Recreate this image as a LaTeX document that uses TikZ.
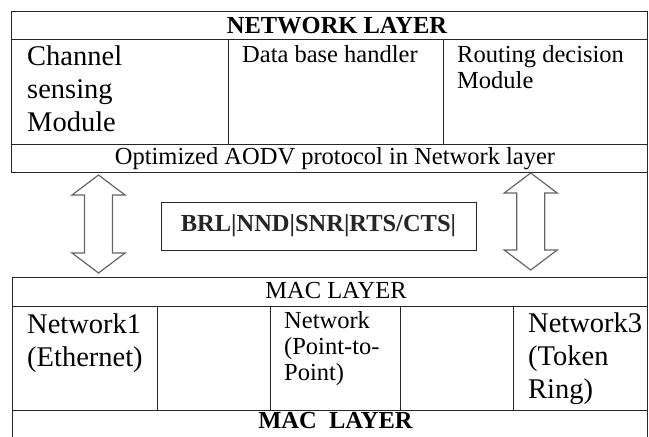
\documentclass[tikz,border=0pt]{standalone}
\usepackage{fontspec}
\setmainfont{Liberation Serif}
\usepackage{tikz}

\begin{document}
\begin{tikzpicture}[x=1pt,y=-1pt,
  rule/.style={line width=0.9pt,black!85},
  txt/.style={inner sep=0pt,align=left,font=\fontsize{24.5}{26}\selectfont},
  boldtxt/.style={inner sep=0pt,font=\fontsize{24.5}{26}\selectfont\bfseries},
  bigtxt/.style={inner sep=0pt,align=left,font=\fontsize{28.5}{33}\selectfont},
  blockarrow/.style={line width=1.2pt,gray!80!black,line join=miter}]
\useasboundingbox (0,0) rectangle (649,437);

% Define the edges of the two tables
\def\xL{11}
\def\xR{647}

% Network layer table
\draw[rule] (\xL,11) rectangle (\xR,172);
\draw[rule] (\xL,39) -- (\xR,39);
\draw[rule] (\xL,144) -- (\xR,144);
\foreach \x in {228,443} {
    \draw[rule] (\x,39) -- (\x,144);
}

% Right border runs down the whole page
\draw[rule] (\xR,172) -- (\xR,437);

% MAC layer table
\draw[rule] (\xL+1,437) -- (\xL+1,277) -- (\xR,277);
\draw[rule] (\xL+1,306) -- (\xR,306);
\draw[rule] (\xL+1,410) -- (\xR,410);
\foreach \x in {157,270,400,513} {
    \draw[rule] (\x,306) -- (\x,410);
}

% Texts of the network layer (base = baseline of the last line)
\node[boldtxt,anchor=base] (netlayer) at (337,33) {NETWORK LAYER};
\node[bigtxt,anchor=base west] (chsense) at (27,131) {Channel\\sensing\\Module};
\node[txt,anchor=base west] (dbhandler) at (242,62) {Data base handler};
\node[txt,anchor=base west] (routing) at (457,88) {Routing decision\\Module};
\node[txt,anchor=base] (aodv) at (335,164) {Optimized AODV protocol in Network layer};

% Fields between the layers
\node[boldtxt,draw,rule,minimum width=315,minimum height=48] (fields) at (318.5,226) {BRL|NND|SNR|RTS/CTS|};

% Hollow double arrows
\foreach \cx/\ytop/\ybot in {98.5/175/273, 530.7/173/270} {
    \draw[blockarrow] (\cx,\ytop) -- ++(26.5,20) -- ++(-12.5,0) -- (\cx+14,\ybot-20)
        -- ++(12.5,0) -- (\cx,\ybot) -- ++(-26.5,-20) -- ++(12.5,0)
        -- (\cx-14,\ytop+20) -- ++(-12.5,0) -- cycle;
}

% Texts of the MAC layer
\node[txt,anchor=base] (maclayer) at (336,298) {MAC LAYER};
\node[bigtxt,anchor=base west] (net1) at (27,366) {Network1\\(Ethernet)};
\node[txt,anchor=base west] (net2) at (284,380) {Network\\(Point-to-\\Point)};
\node[bigtxt,anchor=base west] (net3) at (528,398) {Network3\\(Token\\Ring)};
\node[boldtxt,anchor=base] (macbottom) at (335.5,428) {MAC\ \ LAYER};

\end{tikzpicture}
\end{document}
